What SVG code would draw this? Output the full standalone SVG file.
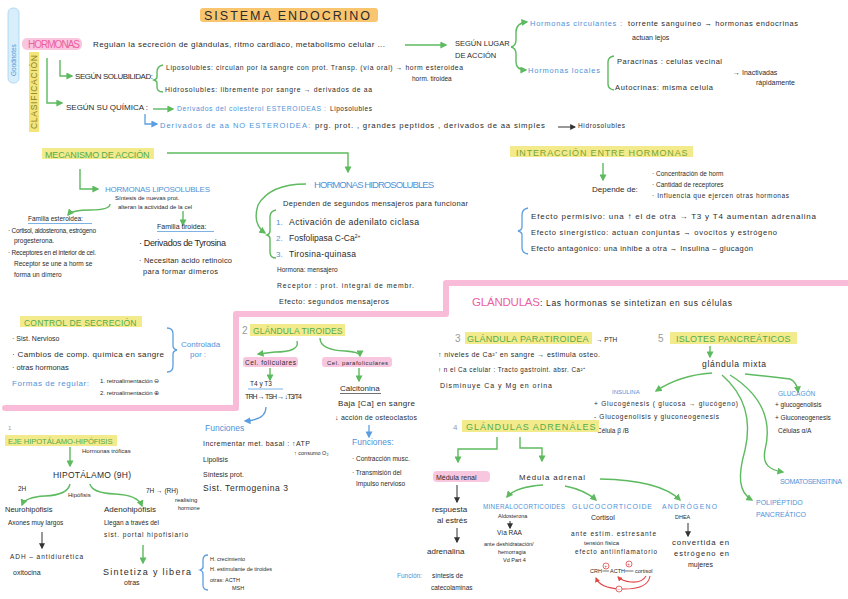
<svg xmlns="http://www.w3.org/2000/svg" width="848" height="599" viewBox="0 0 848 599">
<defs>
<style>
text{font-family:"Liberation Sans",Arial,sans-serif;font-size:7px;fill:#2b2b2b}
.b{fill:#4f93d8}
.gh{fill:#52ac4e;font-size:9px;letter-spacing:0.5px}
.pkt{fill:#ec5fa2}
.gr{fill:#9a9a9a}
.hl{fill:#f3ea8c}
.pk{fill:#f9c6df}
.g{fill:none;stroke:#5dba5f;stroke-width:1.4;marker-end:url(#ag)}
.gn{fill:none;stroke:#5dba5f;stroke-width:1.4}
.bl{fill:none;stroke:#5c9ee0;stroke-width:1.3;marker-end:url(#ab)}
.bn{fill:none;stroke:#5c9ee0;stroke-width:1.3}
.k{fill:none;stroke:#333;stroke-width:1;marker-end:url(#ak)}
.r{fill:none;stroke:#e04848;stroke-width:1.1;marker-end:url(#ar)}
</style>
<marker id="ag" viewBox="0 0 10 10" refX="8" refY="5" markerWidth="7" markerHeight="7" orient="auto" markerUnits="userSpaceOnUse"><path d="M0,0 L10,5 L0,10 z" fill="#5dba5f"/></marker>
<marker id="ab" viewBox="0 0 10 10" refX="8" refY="5" markerWidth="7" markerHeight="7" orient="auto" markerUnits="userSpaceOnUse"><path d="M0,0 L10,5 L0,10 z" fill="#5c9ee0"/></marker>
<marker id="ak" viewBox="0 0 10 10" refX="8" refY="5" markerWidth="6" markerHeight="6" orient="auto" markerUnits="userSpaceOnUse"><path d="M0,0 L10,5 L0,10 z" fill="#333"/></marker>
<marker id="ar" viewBox="0 0 10 10" refX="8" refY="5" markerWidth="5" markerHeight="5" orient="auto" markerUnits="userSpaceOnUse"><path d="M0,0 L10,5 L0,10 z" fill="#e04848"/></marker>
</defs>
<rect width="848" height="599" fill="#ffffff"/>

<!-- pink separator -->
<path d="M848,283 H446 V314 H236 V408 H5" fill="none" stroke="#f8bcd9" stroke-width="6" stroke-linejoin="round" stroke-linecap="round"/>

<g id="connectors">
<path class="gn" d="M405,45 H446" marker-end="url(#ag)"/>
<path class="g" d="M511,47 Q516,46 516,40 L516,32 Q516,23 527,22"/>
<path class="g" d="M511,47 Q516,48 516,54 L516,62 Q516,70 526,70"/>
<path class="gn" d="M614,56 Q608,57 608,62 L608,84 Q608,89 614,90"/>
<path class="gn" d="M47,58 V103 H62" marker-end="url(#ag)"/>
<path class="gn" d="M60,60 V76 H72" marker-end="url(#ag)"/>
<path class="gn" d="M163,65 Q157,66 157,72 L157,77 Q157,79 154,80 Q157,81 157,83 L157,87 Q157,92 163,92"/>
<path class="g" d="M153,109 H173"/>
<path class="bl" d="M145,114 V124 H157"/>
<path class="k" d="M558,127 H575"/>
<path class="g" d="M167,153 H348 V172"/>
<path class="g" d="M80,169 V189 H98"/>
<path class="g" d="M110,204 Q110,210 90,210 Q72,210 68,215"/>
<path class="g" d="M183,211 V225"/>
<path class="g" d="M306,184 Q270,184 258,205 Q252,224 265,233"/>
<path class="gn" d="M276,210 Q270,211 270,217 L270,231 Q270,234 267,235 Q270,236 270,239 L270,252 Q270,258 276,258"/>
<path class="g" d="M603,163 V180"/>
<path class="bn" d="M528,208 Q522,209 522,215 L522,227 Q522,230 518,231 Q522,232 522,235 L522,248 Q522,253 528,254"/>
<path class="bn" d="M167,328 Q173,328 173,334 L173,346 Q173,349 177,350 Q173,351 173,354 L173,366 Q173,372 167,372"/>
<path class="g" d="M297,341 Q300,352 275,352 L258,354"/>
<path class="g" d="M320,338 Q320,350 345,351 Q360,352 360,356"/>
<path class="g" d="M270,368 V380"/>
<path class="g" d="M359,368 V381"/>
<path class="bl" d="M369,425 V437"/>
<path class="bl" d="M266,407 Q266,420 245,421"/>
<path class="g" d="M70,447 V466"/>
<path class="g" d="M70,484 Q68,495 45,496 Q25,497 22,505"/>
<path class="g" d="M90,484 Q92,493 115,494 Q138,495 142,506"/>
<path class="k" d="M42,532 V548"/>
<path class="g" d="M143,545 V563"/>
<path class="bn" d="M208,555 Q203,555 203,560 L203,567 Q203,569 200,570 Q203,571 203,574 L203,585 Q203,590 208,590"/>
<path class="g" d="M710,346 V357"/>
<path class="g" d="M712,373 Q680,375 656,391"/>
<path class="g" d="M745,374 Q765,376 790,379 Q797,382 798,392"/>
<path class="g" d="M722,375 C745,395 752,420 745,450 C738,475 738,492 752,500"/>
<path class="g" d="M730,375 C770,400 770,430 765,450 C762,465 770,470 783,472"/>
<path class="g" d="M497,437 V449 H458 V462"/>
<path class="g" d="M520,437 V448 H542 V461"/>
<path class="k" d="M457,485 V502"/>
<path class="k" d="M457,528 V542"/>
<path class="g" d="M543,485 Q515,487 507,497"/>
<path class="g" d="M565,486 Q585,490 596,500"/>
<path class="g" d="M600,479 Q660,480 680,500"/>
<path class="k" d="M510,521 V528"/>
<path class="k" d="M688,523 V536"/>
<path class="r" d="M650,576 Q648,590 620,589 Q600,588 596,578"/>
<path class="r" d="M646,576 Q642,583 631,582 Q622,581 618,577"/>
</g>

<g id="title">
<rect x="200" y="8" width="178" height="14" rx="3" fill="#f9c56f"/>
<text x="204" y="20" style="font-size:12.5px;letter-spacing:2px" textLength="168">SISTEMA  ENDOCRINO</text>
</g>
<g id="tag">
<rect x="8" y="8" width="11" height="75" rx="5" fill="#d8eefb" stroke="#a3d3f0" stroke-width="0.8"/>
<text transform="translate(16,76) rotate(-90)" class="b" style="font-size:6.5px">Goodnotes</text>
</g>
<g id="clasificacion">
<rect x="29" y="52" width="10" height="80" fill="#f3e57a"/>
<text transform="translate(37,129) rotate(-90)" style="font-size:8.5px;fill:#8c7f22" textLength="74">CLASIFICACIÓN</text>
</g>
<g id="hormonas">
<rect x="22" y="38" width="60" height="12" rx="5" class="pk"/>
<text x="28" y="48" class="pkt" style="font-size:10px" textLength="52">HORMONAS</text>
<text x="93" y="47" style="font-size:8px" textLength="292">Regulan la secreción de glándulas, ritmo cardiaco, metabolismo celular ...</text>
</g>
<g id="lugar">
<text x="455" y="46" style="font-size:7.5px">SEGÚN LUGAR</text>
<text x="455" y="58" style="font-size:7.5px">DE ACCIÓN</text>
</g>
<g id="circulantes">
<text x="530" y="26" class="b" style="font-size:7.5px" textLength="92">Hormonas circulantes :</text>
<text x="628" y="26" style="font-size:7.5px" textLength="170">torrente sanguíneo → hormonas endocrinas</text>
<text x="632" y="40" style="font-size:7px">actuan lejos</text>
</g>
<g id="locales">
<text x="528" y="73" class="b" style="font-size:7.5px" textLength="72">Hormonas locales</text>
<text x="617" y="64" style="font-size:7.5px" textLength="105">Paracrinas : celulas vecinal</text>
<text x="615" y="90" style="font-size:7.5px" textLength="98">Autocrinas: misma celula</text>
<text x="733" y="75" style="font-size:7px">→ Inactivadas</text>
<text x="756" y="85" style="font-size:7px">rápidamente</text>
</g>
<g id="solubilidad">
<text x="75" y="79" style="font-size:8px" textLength="78">SEGÚN SOLUBILIDAD:</text>
<text x="166" y="70" style="font-size:6.8px" textLength="297">Liposolubles: circulan por la sangre con prot. Transp. (vía oral) → horm esteroidea</text>
<text x="412" y="81" style="font-size:6.5px">horm. tiroidea</text>
<text x="165" y="92" style="font-size:6.8px" textLength="207">Hidrosolubles: libremente por sangre → derivados de aa</text>
</g>
<g id="quimica">
<text x="66" y="110" style="font-size:8px" textLength="82">SEGÚN SU QUÍMICA :</text>
<text x="177" y="111" class="b" style="font-size:6.8px" textLength="149">Derivados del colesterol ESTEROIDEAS :</text>
<text x="330" y="111" style="font-size:6.5px" textLength="42">Liposolubles</text>
<text x="160" y="128" class="b" style="font-size:7.5px" textLength="150">Derivados de aa  NO ESTEROIDEA:</text>
<text x="315" y="128" style="font-size:7.8px" textLength="230">prg. prot. , grandes peptidos , derivados de aa simples</text>
<text x="578" y="128" style="font-size:6.5px" textLength="47">Hidrosolubles</text>
</g>
<g id="mecanismo">
<rect x="42" y="148" width="112" height="11" class="hl"/>
<text x="45" y="158" class="gh" textLength="105">MECANISMO DE ACCIÓN</text>
</g>
<g id="liposolubles">
<text x="105" y="192" class="b" style="font-size:8px" textLength="105">HORMONAS LIPOSOLUBLES</text>
<text x="115" y="200" style="font-size:6px">Síntesis de nuevas prot.</text>
<text x="118" y="209" style="font-size:6px">alteran la actividad de la cel</text>
</g>
<g id="esteroidea">
<text x="28" y="221" style="font-size:6.5px">Familia esteroidea:</text>
<path d="M28,223.5 H92" stroke="#5c9ee0" stroke-width="0.8"/>
<text x="8" y="233" style="font-size:6.5px" textLength="88">· Cortisol, aldosterona, estrógeno</text>
<text x="14" y="243" style="font-size:6.5px">progesterona.</text>
<text x="8" y="255" style="font-size:6.5px" textLength="88">· Receptores en el interior de cel.</text>
<text x="14" y="266" style="font-size:6.5px">Receptor se une a horm se</text>
<text x="14" y="277" style="font-size:6.5px">forma un dímero</text>
</g>
<g id="tiroidea">
<text x="157" y="229" style="font-size:7px">Familia tiroidea:</text>
<path d="M157,231.5 H214" stroke="#5c9ee0" stroke-width="0.8"/>
<text x="139" y="246" style="font-size:9px" textLength="87">· Derivados de Tyrosina</text>
<text x="139" y="263" style="font-size:7.5px" textLength="93">· Necesitan ácido retinoico</text>
<text x="143" y="274" style="font-size:7.5px" textLength="75">para formar dímeros</text>
</g>
<g id="hidrosolubles">
<text x="314" y="188" class="b" style="font-size:9.5px" textLength="120">HORMONAS HIDROSOLUBLES</text>
<text x="283" y="206" style="font-size:7.5px" textLength="185">Dependen de segundos mensajeros para funcionar</text>
<text x="276" y="225" class="b" style="font-size:8px">1.</text>
<text x="289" y="225" style="font-size:8.7px" textLength="130">Activación de adenilato ciclasa</text>
<text x="276" y="241" class="b" style="font-size:8px">2.</text>
<text x="289" y="241" style="font-size:8.5px">Fosfolipasa  C-Ca<tspan dy="-3" style="font-size:5px">2+</tspan></text>
<text x="276" y="257" class="b" style="font-size:8px">3.</text>
<text x="289" y="257" style="font-size:8.5px" textLength="67">Tirosina-quinasa</text>
<text x="277" y="272" style="font-size:6.5px">Hormona: mensajero</text>
<text x="277" y="288" style="font-size:6.8px" textLength="137">Receptor : prot. integral de membr.</text>
<text x="279" y="304" style="font-size:7.3px" textLength="110">Efecto: segundos mensajeros</text>
</g>
<g id="interaccion">
<rect x="510" y="146" width="183" height="11" class="hl"/>
<text x="516" y="156" class="gh" style="fill:#77a530" textLength="172">INTERACCIÓN ENTRE HORMONAS</text>
<text x="592" y="192" style="font-size:8px">Depende de:</text>
<text x="652" y="176" style="font-size:6.5px">· Concentración de horm</text>
<text x="652" y="187" style="font-size:6.5px">· Cantidad de receptores</text>
<text x="652" y="198" style="font-size:6.5px" textLength="137">· Influencia que ejercen otras hormonas</text>
<text x="531" y="219" style="font-size:8px" textLength="285">Efecto permisivo: una ↑ el de otra  → T3 y T4  aumentan  adrenalina</text>
<text x="531" y="235" style="font-size:7.5px" textLength="246">Efecto sinergístico: actuan conjuntas → ovocitos y estrógeno</text>
<text x="531" y="251" style="font-size:7.5px" textLength="222">Efecto antagónico: una inhibe a otra → Insulina – glucagón</text>
</g>
<g id="glandulas">
<text x="472" y="306" class="pkt" style="font-size:11.5px" textLength="68">GLÁNDULAS</text>
<text x="540" y="306" style="font-size:9px">:</text>
<text x="546" y="306" style="font-size:8.5px" textLength="186">Las hormonas se sintetizan en sus células</text>
</g>
<g id="control">
<rect x="20" y="316" width="122" height="11" class="hl"/>
<text x="24" y="326" class="gh" style="font-size:8.5px" textLength="113">CONTROL DE SECRECIÓN</text>
<text x="12" y="341" style="font-size:7px">· Sist. Nervioso</text>
<text x="12" y="357" style="font-size:8px" textLength="152">· Cambios de comp. química en sangre</text>
<text x="12" y="370" style="font-size:7.5px">· otras hormonas</text>
<text x="181" y="347" class="b" style="font-size:8px">Controlada</text>
<text x="190" y="357" class="b" style="font-size:8px">por :</text>
<text x="12" y="386" class="b" style="font-size:8px" textLength="77">Formas de regular:</text>
<text x="100" y="383" style="font-size:6px">1. retroalimentación ⊖</text>
<text x="100" y="395" style="font-size:6px">2. retroalimentación ⊕</text>
</g>
<g id="tiroides">
<text x="242" y="334" class="gr" style="font-size:10px">2</text>
<rect x="250" y="324" width="95" height="12" class="hl"/>
<text x="253" y="334" class="gh" style="font-size:8.5px" textLength="90">GLÁNDULA TIROIDES</text>
<rect x="243" y="357" width="55" height="10" rx="3" class="pk"/>
<text x="245" y="365" style="font-size:6.5px" textLength="51">Cel. foliculares</text>
<rect x="322" y="357" width="70" height="10" rx="3" class="pk"/>
<text x="327" y="365" style="font-size:6px" textLength="61">Cel. parafoliculares</text>
<text x="250" y="386" style="font-size:6.5px">T4 y T3</text>
<path d="M248,389 H283" stroke="#5c9ee0" stroke-width="0.8"/>
<text x="245" y="399" style="font-size:7px" textLength="57">TRH → TSH → ↓T3/T4</text>
<text x="340" y="391" style="font-size:8px">Calcitonina</text>
<path d="M340,393.5 H381" stroke="#333" stroke-width="0.7"/>
<text x="338" y="406" style="font-size:8px" textLength="77">Baja [Ca] en sangre</text>
<text x="335" y="420" style="font-size:7px" textLength="82">↓ acción de osteoclastos</text>
<text x="352" y="445" class="b" style="font-size:8.5px">Funciones:</text>
<text x="352" y="461" style="font-size:6.5px">· Contracción musc.</text>
<text x="352" y="475" style="font-size:6.5px">· Transmisión del</text>
<text x="356" y="486" style="font-size:6.5px">Impulso nervioso</text>
</g>
<g id="funciones-tiroides">
<text x="205" y="431" class="b" style="font-size:8.5px">Funciones</text>
<text x="203" y="446" style="font-size:7px" textLength="107">Incrementar met. basal : ↑ATP</text>
<text x="294" y="455" style="font-size:5.5px">↑ consumo O₂</text>
<text x="203" y="462" style="font-size:7px">Lipolisis</text>
<text x="203" y="477" style="font-size:7px">Síntesis prot.</text>
<text x="203" y="491" style="font-size:8.5px" textLength="85">Sist. Termogenina 3</text>
</g>
<g id="eje">
<text x="8" y="430" class="gr" style="font-size:6px">1</text>
<rect x="5" y="435" width="112" height="11" class="hl"/>
<text x="8" y="444" class="gh" style="font-size:7.6px" textLength="105">EJE HIPOTÁLAMO-HIPÓFISIS</text>
<text x="82" y="453" style="font-size:6px">Hormonas tróficas</text>
<text x="53" y="478" style="font-size:8.5px" textLength="78">HIPOTÁLAMO (9H)</text>
<text x="18" y="491" style="font-size:6.5px">2H</text>
<text x="68" y="497" style="font-size:6px">Hipófisis</text>
<text x="146" y="493" style="font-size:6.5px">7H → (RH)</text>
<text x="175" y="502" style="font-size:6px">realising</text>
<text x="178" y="510" style="font-size:5.5px">hormone</text>
</g>
<g id="neurohipofisis">
<text x="5" y="512" style="font-size:7.5px">Neurohipófisis</text>
<text x="8" y="525" style="font-size:6.5px">Axones muy largos</text>
<text x="10" y="559" style="font-size:6.5px" textLength="73">ADH – antidiurética</text>
<text x="13" y="575" style="font-size:7px">oxitocina</text>
</g>
<g id="adenohipofisis">
<text x="104" y="512" style="font-size:8px">Adenohipófisis</text>
<text x="104" y="525" style="font-size:6.5px">Llegan a través del</text>
<text x="104" y="537" style="font-size:6.5px" textLength="84">sist. portal hipofisiario</text>
<text x="103" y="575" style="font-size:9px" textLength="88">Sintetiza  y  libera</text>
<text x="124" y="585" style="font-size:7px">otras</text>
<text x="210" y="561" style="font-size:5.5px">H. crecimiento</text>
<text x="210" y="571" style="font-size:5.5px">H. estimulante de tiroides</text>
<text x="210" y="582" style="font-size:5.5px">otras: ACTH</text>
<text x="232" y="590" style="font-size:5.5px">MSH</text>
</g>
<g id="paratiroidea">
<text x="455" y="342" class="gr" style="font-size:10px">3</text>
<rect x="465" y="332" width="127" height="12" class="hl"/>
<text x="467" y="342" class="gh" textLength="122">GLÁNDULA PARATIROIDEA</text>
<text x="596" y="342" style="font-size:6.5px">→ PTH</text>
<text x="438" y="357" style="font-size:7px" textLength="162">↑ niveles de Ca²⁺ en sangre → estimula osteo.</text>
<text x="438" y="372" style="font-size:6.3px" textLength="147">↑ n el Ca celular : Tracto gastroint. absr. Ca²⁺</text>
<text x="440" y="388" style="font-size:7px" textLength="112">Disminuye Ca y Mg en orina</text>
</g>
<g id="islotes">
<text x="658" y="342" class="gr" style="font-size:10px">5</text>
<rect x="670" y="332" width="127" height="12" class="hl"/>
<text x="676" y="342" class="gh" textLength="115">ISLOTES PANCREÁTICOS</text>
<text x="702" y="367" style="font-size:8.5px" textLength="64">glándula mixta</text>
</g>
<g id="insulina">
<text x="612" y="394" class="b" style="font-size:6px">INSULINA</text>
<text x="594" y="406" style="font-size:6.5px" textLength="144">+ Glucogénesis ( glucosa → glucógeno)</text>
<text x="594" y="419" style="font-size:6.5px" textLength="125">- Glucogenolisis y gluconeogenesis</text>
<text x="597" y="433" style="font-size:6.5px">Célula β /B</text>
</g>
<g id="glucagon">
<text x="778" y="396" class="b" style="font-size:6.5px">GLUCAGÓN</text>
<text x="775" y="407" style="font-size:6.5px">+ glucogenolisis</text>
<text x="775" y="420" style="font-size:6.5px">+ Gluconeogenesis</text>
<text x="778" y="433" style="font-size:6.5px">Células α/A</text>
</g>
<g id="somatostatina">
<text x="780" y="484" class="b" style="font-size:7px" textLength="62">SOMATOSENSITINA</text>
</g>
<g id="polipeptido">
<text x="756" y="505" class="b" style="font-size:7px">POLIPÉPTIDO</text>
<text x="756" y="517" class="b" style="font-size:7px">PANCREÁTICO</text>
</g>
<g id="adrenales">
<text x="453" y="430" class="gr" style="font-size:8px">4</text>
<rect x="462" y="420" width="137" height="12" class="hl"/>
<text x="466" y="430" class="gh" textLength="130">GLÁNDULAS ADRENÁLES</text>
</g>
<g id="medula-renal">
<rect x="433" y="471" width="57" height="11" rx="4" class="pk"/>
<text x="436" y="480" style="font-size:7px">Médula renal</text>
<text x="432" y="512" style="font-size:8px">respuesta</text>
<text x="437" y="523" style="font-size:8px">al estrés</text>
<text x="427" y="554" style="font-size:8px">adrenalina</text>
<text x="397" y="578" class="b" style="font-size:6.5px">Función:</text>
<text x="432" y="578" style="font-size:6.5px">síntesis de</text>
<text x="431" y="590" style="font-size:6.5px">catecolaminas</text>
</g>
<g id="medula-adrenal">
<text x="519" y="480" style="font-size:7.8px" textLength="66">Médula adrenal</text>
</g>
<g id="mineralocorticoides">
<text x="483" y="509" class="b" style="font-size:6.3px" textLength="82">MINERALOCORTICOIDES</text>
<text x="498" y="518" style="font-size:5.5px">Aldosterona</text>
<text x="497" y="535" style="font-size:6.5px">Vía RAA</text>
<text x="484" y="546" style="font-size:5.5px">ante deshidratación/</text>
<text x="498" y="554" style="font-size:5.5px">hemorragia</text>
<text x="503" y="562" style="font-size:5.5px">Vd Part 4</text>
</g>
<g id="glucocorticoide">
<text x="572" y="509" class="b" style="font-size:7px" textLength="80">GLUCOCORTICOIDE</text>
<text x="591" y="520" style="font-size:7px">Cortisol</text>
<text x="571" y="536" style="font-size:6.5px" textLength="85">ante estím. estresante</text>
<text x="584" y="545" style="font-size:6px">tensión física</text>
<text x="575" y="554" style="font-size:6.3px" textLength="82">efecto antiinflamatorio</text>
<text x="590" y="573" style="font-size:5.5px">CRH</text>
<path d="M602.5,571 H609 M625,571 H633.5" stroke="#333" stroke-width="0.7"/>
<text x="610" y="573" style="font-size:5.5px">ACTH</text>
<text x="635" y="573" style="font-size:5.5px">cortisol</text>
<circle cx="606" cy="566" r="3" fill="none" stroke="#e04848" stroke-width="0.8"/>
<text x="604.3" y="568" style="font-size:5px;fill:#e04848">+</text>
<circle cx="629" cy="564" r="3" fill="none" stroke="#e04848" stroke-width="0.8"/>
<text x="627.3" y="566" style="font-size:5px;fill:#e04848">+</text>
<circle cx="619" cy="589" r="3" fill="#fff" stroke="#e04848" stroke-width="0.8"/>
<text x="617.5" y="591" style="font-size:5px;fill:#e04848">−</text>
</g>
<g id="androgeno">
<text x="662" y="509" class="b" style="font-size:6.8px" textLength="55">ANDRÓGENO</text>
<text x="675" y="519" style="font-size:5.5px">DHEA</text>
<text x="672" y="545" style="font-size:7.8px" textLength="57">convertida en</text>
<text x="674" y="556" style="font-size:7.5px" textLength="55">estrógeno en</text>
<text x="688" y="567" style="font-size:7px">mujeres</text>
</g>
</svg>
